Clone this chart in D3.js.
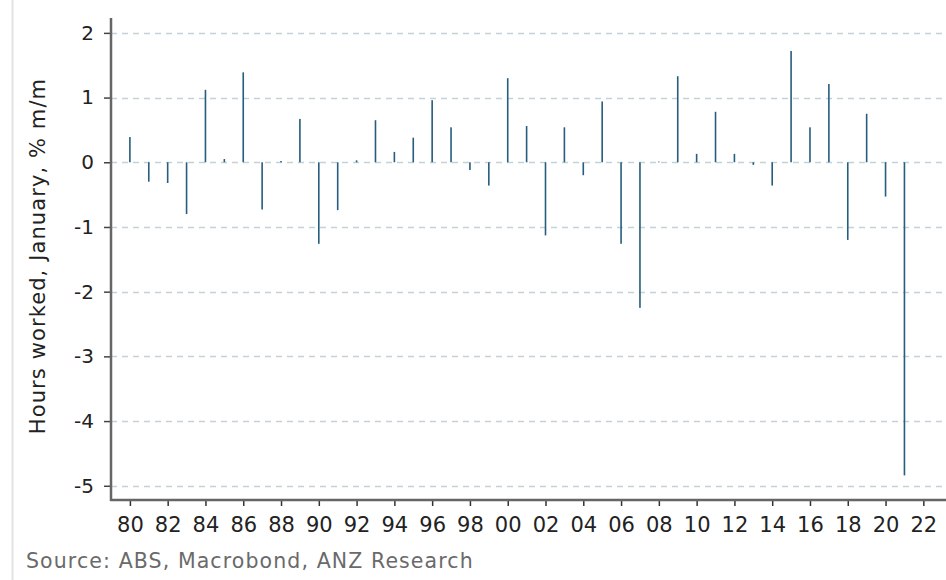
<!DOCTYPE html>
<html>
<head>
<meta charset="utf-8">
<script src="https://cdn.jsdelivr.net/npm/d3@7"></script>
<style>
  html,body{margin:0;padding:0;background:#fff;}
  svg{display:block;font-family:"DejaVu Sans",Verdana,sans-serif;}
</style>
</head>
<body>
<div id="chart"></div>
<script>
// January hours worked, % m/m, one value per year
const years=[1979,1980,1981,1982,1983,1984,1985,1986,1987,1988,1989,1990,1991,1992,1993,1994,1995,1996,1997,1998,1999,
  2000,2001,2002,2003,2004,2005,2006,2007,2008,2009,2010,2011,2012,2013,2014,2015,2016,2017,2018,2019,2020,2021];
const values=[-0.18,0.39,-0.30,-0.32,-0.80,1.12,0.05,1.39,-0.73,0.02,0.67,-1.26,-0.74,0.03,0.65,0.16,0.38,0.96,0.54,-0.12,-0.36,
  1.30,0.56,-1.13,0.54,-0.20,0.94,-1.26,-2.25,0.01,1.33,0.13,0.78,0.13,-0.04,-0.36,1.72,0.54,1.21,-1.20,0.75,-0.53,-4.84];
const yTicks=[2,1,0,-1,-2,-3,-4,-5];
const xTicks=[1980,1982,1984,1986,1988,1990,1992,1994,1996,1998,2000,2002,2004,2006,2008,2010,2012,2014,2016,2018,2020,2022];
const yTitle="Hours worked, January, % m/m";
const source="Source: ABS, Macrobond, ANZ Research";

(function(){
    let width=946,height=580;
    let left=111,right=946,top=18,bottom=500;
    let svg=d3.select("#chart").append("svg")
        .attr("width",width)
        .attr("height",height);

    // faint frame line on the left edge
    svg.append("line")
        .attr("x1",12.5).attr("x2",12.5)
        .attr("y1",0).attr("y2",height)
        .attr("stroke","#e3e3e3")
        .attr("stroke-width",2);

    let x=d3.scaleLinear().domain([1979,2023.2]).range([left,right]);
    let y=d3.scaleLinear().domain([-5.22,2.23]).range([bottom,top]);

    // dashed gridlines
    svg.append("g")
        .selectAll("line")
        .data(yTicks)
        .join("line")
        .attr("x1",left).attr("x2",right)
        .attr("y1",function(d){return Math.round(y(d))+0.5})
        .attr("y2",function(d){return Math.round(y(d))+0.5})
        .attr("stroke","#c3d1d8")
        .attr("stroke-width",1.5)
        .attr("stroke-dasharray","6,5");

    // bars (thin spikes)
    svg.append("g")
        .selectAll("rect")
        .data(years)
        .join("rect")
        .attr("x",function(d){return x(d)-0.8})
        .attr("width",1.6)
        .attr("y",function(d,i){return y(Math.max(0,values[i]))})
        .attr("height",function(d,i){return Math.abs(y(values[i])-y(0))})
        .attr("fill","#255e7e");

    // y axis
    let ya=svg.append("g")
        .attr("transform","translate("+left+",0)")
        .call(d3.axisLeft(y).tickValues(yTicks).tickSize(7).tickPadding(10).tickSizeOuter(0)
            .tickFormat(function(d){return String(d)}));
    ya.select(".domain").remove();
    ya.selectAll("text").attr("font-size",20).attr("fill","#222").attr("font-family","DejaVu Sans");
    ya.selectAll(".tick line").attr("stroke","#444").attr("stroke-width",1.5);
    svg.append("line")
        .attr("x1",left).attr("x2",left)
        .attr("y1",top).attr("y2",bottom+1)
        .attr("stroke","#666").attr("stroke-width",2.5);

    // x axis
    let xa=svg.append("g")
        .attr("transform","translate(0,"+bottom+")")
        .call(d3.axisBottom(x).tickValues(xTicks).tickSize(6).tickPadding(11).tickSizeOuter(0)
            .tickFormat(function(d){return String(d%100).padStart(2,"0")}));
    xa.select(".domain").remove();
    xa.selectAll("text").attr("font-size",21).attr("fill","#222").attr("font-family","DejaVu Sans");
    xa.selectAll(".tick line").attr("stroke","#333").attr("stroke-width",1.5);
    svg.append("line")
        .attr("x1",left-1).attr("x2",right)
        .attr("y1",bottom).attr("y2",bottom)
        .attr("stroke","#666").attr("stroke-width",2.5);

    // y axis title
    svg.append("text")
        .attr("transform","translate(45,256) rotate(-90)")
        .attr("text-anchor","middle")
        .attr("font-size",21)
        .attr("letter-spacing",1.1)
        .attr("fill","#222")
        .text(yTitle);

    // source note
    svg.append("text")
        .attr("x",26).attr("y",568)
        .attr("font-size",20.5)
        .attr("letter-spacing",1.1)
        .attr("fill","#6a6a6a")
        .text(source);
})();
</script>
</body>
</html>
